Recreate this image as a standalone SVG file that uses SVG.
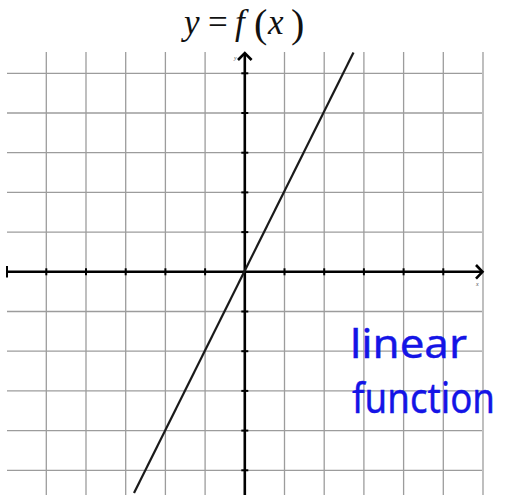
<svg xmlns="http://www.w3.org/2000/svg" width="506" height="495" viewBox="0 0 506 495">
<defs>
<style>
.grid line{stroke:#9c9c9c;stroke-width:1.3}
.axis{stroke:#000;stroke-width:2.6;fill:none}
.tick{stroke:#000;stroke-width:2}
.title{font-family:"Liberation Serif",serif;fill:#111}
.it{font-style:italic}
.lbl{font-family:"Liberation Serif",serif;font-size:6px;fill:#555}
.hand{font-family:"Noto Sans",sans-serif;fill:#1414e6;stroke:#1414e6;stroke-width:0.4}
</style>
</defs>
<rect width="506" height="495" fill="#fff"/>
<g id="title">
<text class="title it" x="184" y="34" font-size="35">y</text>
<text class="title" x="208" y="34" font-size="35">=</text>
<text class="title it" x="235" y="34" font-size="35">f</text>
<text class="title" x="254" y="37" font-size="40">(</text>
<text class="title it" x="268" y="34" font-size="35">x</text>
<text class="title" x="291" y="37" font-size="40">)</text>
</g>
<g id="grid" class="grid">
<line x1="46.3" y1="52" x2="46.3" y2="495"/>
<line x1="86" y1="52" x2="86" y2="495"/>
<line x1="125.7" y1="52" x2="125.7" y2="495"/>
<line x1="165.4" y1="52" x2="165.4" y2="495"/>
<line x1="205.1" y1="52" x2="205.1" y2="495"/>
<line x1="284.5" y1="52" x2="284.5" y2="495"/>
<line x1="324.2" y1="52" x2="324.2" y2="495"/>
<line x1="363.9" y1="52" x2="363.9" y2="495"/>
<line x1="403.6" y1="52" x2="403.6" y2="495"/>
<line x1="443.3" y1="52" x2="443.3" y2="495"/>
<line x1="483" y1="52" x2="483" y2="495"/>
<line x1="7" y1="73.3" x2="482" y2="73.3"/>
<line x1="7" y1="113" x2="482" y2="113"/>
<line x1="7" y1="152.7" x2="482" y2="152.7"/>
<line x1="7" y1="192.4" x2="482" y2="192.4"/>
<line x1="7" y1="232.1" x2="482" y2="232.1"/>
<line x1="7" y1="311.5" x2="482" y2="311.5"/>
<line x1="7" y1="351.2" x2="482" y2="351.2"/>
<line x1="7" y1="390.9" x2="482" y2="390.9"/>
<line x1="7" y1="430.6" x2="482" y2="430.6"/>
<line x1="7" y1="470.3" x2="482" y2="470.3"/>
</g>
<g id="axes">
<line class="axis" x1="7" y1="271.8" x2="482" y2="271.8"/>
<line class="axis" x1="244.8" y1="53" x2="244.8" y2="495"/>
<polyline class="axis" points="476,265 482.5,271.8 476,278.6"/>
<polyline class="axis" points="238,60 244.8,53 251.6,60"/>
<g class="tick">
<line x1="7" y1="266" x2="7" y2="277.5"/>
<line x1="46.3" y1="268.3" x2="46.3" y2="275.3"/>
<line x1="86" y1="268.3" x2="86" y2="275.3"/>
<line x1="125.7" y1="268.3" x2="125.7" y2="275.3"/>
<line x1="165.4" y1="268.3" x2="165.4" y2="275.3"/>
<line x1="205.1" y1="268.3" x2="205.1" y2="275.3"/>
<line x1="284.5" y1="268.3" x2="284.5" y2="275.3"/>
<line x1="324.2" y1="268.3" x2="324.2" y2="275.3"/>
<line x1="363.9" y1="268.3" x2="363.9" y2="275.3"/>
<line x1="403.6" y1="268.3" x2="403.6" y2="275.3"/>
<line x1="443.3" y1="268.3" x2="443.3" y2="275.3"/>
<line x1="241.3" y1="73.3" x2="248.3" y2="73.3"/>
<line x1="241.3" y1="113" x2="248.3" y2="113"/>
<line x1="241.3" y1="152.7" x2="248.3" y2="152.7"/>
<line x1="241.3" y1="192.4" x2="248.3" y2="192.4"/>
<line x1="241.3" y1="232.1" x2="248.3" y2="232.1"/>
<line x1="241.3" y1="311.5" x2="248.3" y2="311.5"/>
<line x1="241.3" y1="351.2" x2="248.3" y2="351.2"/>
<line x1="241.3" y1="390.9" x2="248.3" y2="390.9"/>
<line x1="241.3" y1="430.6" x2="248.3" y2="430.6"/>
<line x1="241.3" y1="470.3" x2="248.3" y2="470.3"/>
</g>
<text class="lbl it" x="234" y="60">y</text>
<text class="lbl it" x="476" y="286">x</text>
</g>
<g id="graph-line">
<line x1="134" y1="493" x2="353.5" y2="52.5" stroke="#1a1a1a" stroke-width="2.2"/>
</g>
<g id="annotation">
<text class="hand" x="350" y="358" font-size="40" textLength="117" lengthAdjust="spacingAndGlyphs">linear</text>
<text class="hand" x="352" y="413" font-size="42" textLength="143" lengthAdjust="spacingAndGlyphs">function</text>
</g>
</svg>
